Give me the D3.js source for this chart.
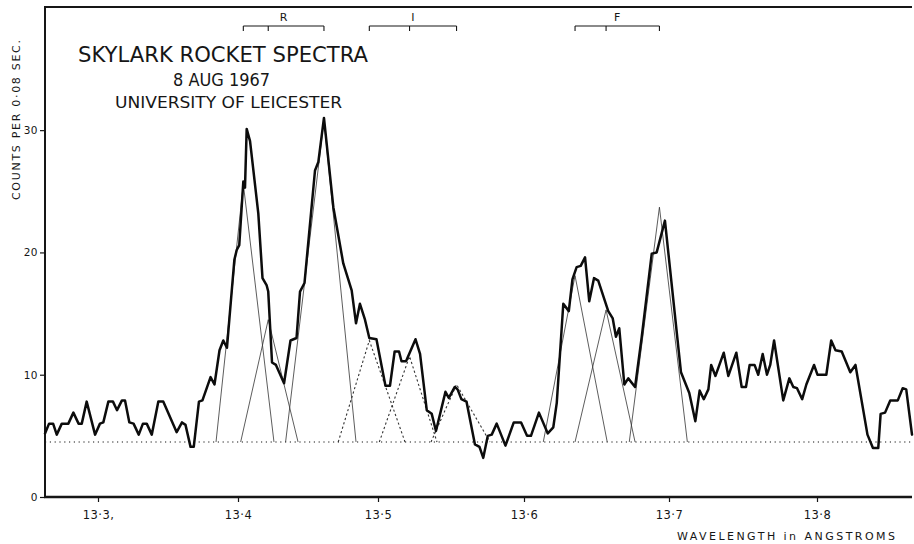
<!DOCTYPE html>
<html><head><meta charset="utf-8">
<script src="https://cdn.jsdelivr.net/npm/d3@7"></script>
<style>body{margin:0;background:#fff}svg{display:block}</style>
</head><body>
<svg id="chart" width="914" height="544"></svg>
<script>
// ---- data ----
const wavelength = [13.2621,13.2650,13.2679,13.2705,13.2741,13.2788,13.2824,13.2861,13.2884,13.2919,
13.2979,13.3014,13.3038,13.3074,13.3107,13.3136,13.3171,13.3193,13.3224,13.3254,
13.3291,13.3321,13.3348,13.3384,13.3431,13.3466,13.3562,13.3600,13.3625,13.3661,
13.3684,13.3721,13.3746,13.3804,13.3832,13.3868,13.3895,13.3921,13.3974,13.3991,
13.4009,13.4038,13.4050,13.4062,13.4086,13.4145,13.4175,13.4205,13.4216,13.4243,
13.4271,13.4329,13.4375,13.4418,13.4443,13.4475,13.4550,13.4574,13.4614,13.4681,
13.4752,13.4812,13.4843,13.4871,13.4907,13.4938,13.4989,13.5051,13.5082,13.5114,
13.5144,13.5161,13.5192,13.5257,13.5288,13.5334,13.5368,13.5397,13.5462,13.5485,
13.5526,13.5545,13.5571,13.5606,13.5664,13.5695,13.5721,13.5752,13.5779,13.5813,
13.5873,13.5930,13.5980,13.6021,13.6048,13.6103,13.6164,13.6202,13.6226,13.6271,
13.6309,13.6334,13.6363,13.6391,13.6421,13.6450,13.6483,13.6512,13.6581,13.6612,
13.6634,13.6657,13.6692,13.6719,13.6766,13.6812,13.6881,13.6915,13.6972,13.7081,
13.7137,13.7178,13.7207,13.7235,13.7266,13.7285,13.7314,13.7370,13.7401,13.7455,
13.7491,13.7520,13.7545,13.7578,13.7603,13.7633,13.7662,13.7684,13.7710,13.7772,
13.7813,13.7840,13.7865,13.7900,13.7928,13.7980,13.8003,13.8063,13.8096,13.8125,
13.8167,13.8225,13.8260,13.8341,13.8378,13.8414,13.8430,13.8460,13.8495,13.8546,
13.8579,13.8603,13.8642];
const counts = [5.2,6.0,6.0,5.1,6.0,6.0,6.9,6.0,6.0,7.8,
5.1,6.0,6.1,7.8,7.8,7.1,7.9,7.9,6.1,6.0,
5.1,6.0,6.0,5.1,7.8,7.8,5.3,6.1,5.9,4.1,
4.1,7.8,7.9,9.8,9.2,12.0,12.8,12.2,19.4,20.2,
20.6,25.8,25.3,30.1,29.1,23.2,17.9,17.3,16.8,11.0,
10.8,9.3,12.8,13.0,16.8,17.5,26.7,27.4,31.0,23.7,
19.1,16.9,14.2,15.8,14.5,13.0,12.9,9.1,9.1,11.9,
11.9,11.1,11.1,12.9,11.7,7.1,6.8,5.4,8.6,8.1,
9.0,8.8,8.0,7.8,4.3,4.1,3.2,5.0,5.1,6.0,
4.2,6.1,6.1,5.0,5.0,6.9,5.2,5.7,7.7,15.8,
15.2,17.8,18.8,18.9,19.6,16.0,17.9,17.7,15.2,14.6,
13.1,13.8,9.2,9.7,9.0,13.1,19.9,20.0,22.6,10.2,
8.5,6.2,8.7,8.0,8.8,10.8,9.9,11.8,9.9,11.8,
9.0,9.0,10.8,10.8,10.0,11.7,10.0,10.8,12.8,7.9,
9.7,9.0,8.9,8.0,9.2,10.8,10.0,10.0,12.8,12.0,
11.9,10.2,10.8,5.1,4.0,4.0,6.8,6.9,7.9,7.9,
8.9,8.8,5.1];

const baselineLevel = 4.5;

// fitted line components (triangles on the baseline)
const componentGroup  = ["R","R","R","I","I","I","F","F","F"];
const componentStart  = [13.3843,13.4019,13.4340,13.4716,13.5009,13.5363,13.6133,13.6352,13.6726];
const componentPeakW  = [13.4038,13.4216,13.4614,13.4938,13.5216,13.5538,13.6352,13.6566,13.6934];
const componentEnd    = [13.4257,13.4429,13.4843,13.5185,13.5404,13.5767,13.6574,13.6766,13.7124];
const componentHeight = [25.6,14.5,30.8,12.8,11.5,9.2,18.1,15.3,23.7];

const groupLabels = ["R","I","F"];

const xTickValues = [13.3,13.4,13.5,13.6,13.7,13.8];
const xTickLabels = ["13·3,","13·4","13·5","13·6","13·7","13·8"];
const yTickValues = [0,10,20,30];
const yTickLabels = ["0","10","20","30"];

const titleLines = ["SKYLARK ROCKET SPECTRA","8 AUG 1967","UNIVERSITY OF LEICESTER"];
const xAxisTitle = "WAVELENGTH in ANGSTROMS";
const yAxisTitle = "COUNTS PER 0·08 SEC.";

// ---- drawing ----
(function () {
const svg = d3.select("#chart");
const FONT = "'DejaVu Sans', 'Liberation Sans', sans-serif";
const pL = 45, pR = 912, pT = 7, pB = 497;

// the original plate's wavelength axis is slightly non-uniform: polylinear scale
const x = d3.scaleLinear()
  .domain([13.2621, 13.3, 13.4, 13.5, 13.6, 13.7, 13.8, 13.8642])
  .range([pL, 98, 238, 378, 524, 669, 817, pR]);
const y = d3.scaleLinear().domain([0, 40.07]).range([pB, pT]);

const ink = "#161616";

// frame
svg.append("line").attr("x1", pL).attr("x2", pR).attr("y1", pT).attr("y2", pT)
  .attr("stroke", ink).attr("stroke-width", 2);
svg.append("line").attr("x1", pL).attr("x2", pL).attr("y1", pT - 1).attr("y2", pB + 1)
  .attr("stroke", ink).attr("stroke-width", 2);
svg.append("line").attr("x1", pL - 1).attr("x2", pR).attr("y1", pB).attr("y2", pB)
  .attr("stroke", ink).attr("stroke-width", 2.4);

// axes
const xAxis = d3.axisBottom(x).tickValues(xTickValues)
  .tickFormat((d, i) => xTickLabels[i]).tickSize(5).tickPadding(9);
const gx = svg.append("g").attr("transform", `translate(0,${pB})`).call(xAxis);
gx.select(".domain").remove();
gx.selectAll(".tick line").attr("stroke", ink).attr("stroke-width", 1.2);
gx.selectAll(".tick text").attr("font-family", FONT).attr("font-size", 11.5)
  .attr("fill", ink).attr("letter-spacing", 0.5);

const yAxis = d3.axisLeft(y).tickValues(yTickValues)
  .tickFormat((d, i) => yTickLabels[i]).tickSize(5).tickPadding(2);
const gy = svg.append("g").attr("transform", `translate(${pL},0)`).call(yAxis);
gy.select(".domain").remove();
gy.selectAll(".tick line").attr("stroke", ink).attr("stroke-width", 1.2);
gy.selectAll(".tick text").attr("font-family", FONT).attr("font-size", 10.5)
  .attr("fill", ink).attr("letter-spacing", 0.5);

// axis titles
svg.append("text").attr("x", 677).attr("y", 540)
  .attr("font-family", FONT).attr("font-size", 11).attr("fill", ink)
  .attr("textLength", 218).attr("lengthAdjust", "spacing")
  .text(xAxisTitle);
svg.append("text").attr("transform", "translate(19.5,200) rotate(-90)")
  .attr("font-family", FONT).attr("font-size", 11).attr("fill", ink)
  .attr("textLength", 160).attr("lengthAdjust", "spacing")
  .text(yAxisTitle);

// title block
const titleSpecs = [
  {x: 78, y: 62, size: 21, len: 290},
  {x: 173, y: 86, size: 17.5, len: 97},
  {x: 115, y: 108, size: 16, len: 227}
];
titleLines.forEach((t, i) => {
  const s = titleSpecs[i];
  svg.append("text").attr("x", s.x).attr("y", s.y)
    .attr("font-family", FONT).attr("font-size", s.size).attr("fill", ink)
    .attr("textLength", s.len).attr("lengthAdjust", "spacingAndGlyphs")
    .text(t);
});

// dotted continuum baseline
svg.append("line")
  .attr("x1", x(wavelength[0])).attr("x2", x(wavelength[wavelength.length - 1]))
  .attr("y1", y(baselineLevel)).attr("y2", y(baselineLevel))
  .attr("stroke", ink).attr("stroke-width", 1.1).attr("stroke-dasharray", "1.2,3.6");

// fitted components
const comps = componentGroup.map((g, i) => ({
  group: g,
  pts: [[componentStart[i], baselineLevel], [componentPeakW[i], componentHeight[i]], [componentEnd[i], baselineLevel]]
}));
const cline = d3.line().x(d => x(d[0])).y(d => y(d[1]));
svg.append("g").selectAll("path").data(comps).join("path")
  .attr("d", d => cline(d.pts))
  .attr("fill", "none")
  .attr("stroke", "#333")
  .attr("stroke-width", d => d.group === "I" ? 1.1 : 0.8)
  .attr("stroke-dasharray", d => d.group === "I" ? "2.2,2.4" : null);

// main spectrum
const data = wavelength.map((w, i) => [w, counts[i]]);
svg.append("path").datum(data)
  .attr("d", d3.line().x(d => x(d[0])).y(d => y(d[1])))
  .attr("fill", "none").attr("stroke", "#0c0c0c")
  .attr("stroke-width", 2.5).attr("stroke-linejoin", "round").attr("stroke-linecap", "round");

// identification brackets at the top
const bracketY = 26;
groupLabels.forEach(g => {
  const peaks = componentPeakW.filter((w, i) => componentGroup[i] === g).map(w => x(w));
  const x0 = d3.min(peaks), x1 = d3.max(peaks);
  const gb = svg.append("g").attr("stroke", ink).attr("stroke-width", 1.1);
  gb.append("line").attr("x1", x0).attr("x2", x1).attr("y1", bracketY).attr("y2", bracketY);
  peaks.forEach(px => {
    gb.append("line").attr("x1", px).attr("x2", px).attr("y1", bracketY).attr("y2", bracketY + 5);
  });
  svg.append("text").attr("x", (x0 + x1) / 2).attr("y", 21)
    .attr("text-anchor", "middle").attr("font-family", FONT).attr("font-size", 11)
    .attr("fill", ink).text(g);
});
})();
</script>
</body></html>
